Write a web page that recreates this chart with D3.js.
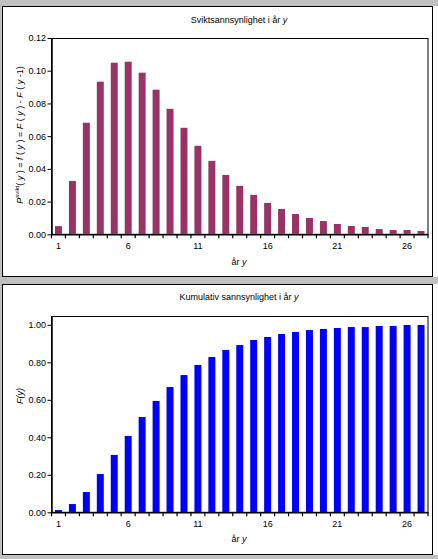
<!DOCTYPE html>
<html><head><meta charset="utf-8">
<script src="https://cdn.jsdelivr.net/npm/d3@7"></script>
<style>body{margin:0;background:#c0c0c0}svg{display:block}text{font-family:"Liberation Sans",Arial,sans-serif;fill:#000}</style>
</head><body>
<script>
const years = d3.range(1, 28);
const fValues = [0.005,0.0326,0.0682,0.0933,0.1049,0.1055,0.0988,0.0884,0.0767,0.0651,0.0541,0.0449,0.0363,0.0296,0.0241,0.0192,0.0155,0.0124,0.0100,0.0081,0.0063,0.0051,0.0045,0.0032,0.0026,0.0026,0.0020];
const FValues = [0.012,0.044,0.108,0.204,0.306,0.407,0.508,0.594,0.668,0.732,0.786,0.828,0.866,0.892,0.919,0.935,0.951,0.962,0.972,0.978,0.983,0.988,0.988,0.994,0.994,0.999,0.999];
const xTickLabels = [1,6,11,16,21,26];
const fTicks = [0,0.02,0.04,0.06,0.08,0.10,0.12];
const FTicks = [0,0.2,0.4,0.6,0.8,1.0];

const W = 438, H = 559;
const svg = d3.select("body").append("svg").attr("width", W).attr("height", H);
svg.append("rect").attr("width", W).attr("height", H).attr("fill", "#c0c0c0");

function panel(o) {
  const g = svg.append("g");
  g.append("rect").attr("x", 433).attr("y", o.py0).attr("width", 5).attr("height", o.py1 - o.py0).attr("fill", "#fff");
  g.append("rect").attr("x", 2.5).attr("y", o.py0 + 0.5).attr("width", 430).attr("height", o.py1 - o.py0 - 1)
    .attr("fill", "#fff").attr("stroke", "#000").attr("stroke-width", 1);
  const x = d3.scaleBand().domain(years).range([51.5, 428]).paddingInner(0.5).paddingOuter(0.25);
  const y = d3.scaleLinear().domain(o.domain).range([o.bottom, o.top]);
  g.append("rect").attr("x", 51.5).attr("y", o.top + 0.5).attr("width", 428 - 51.5).attr("height", o.bottom - o.top - 0.5)
    .attr("fill", "none").attr("stroke", "#000");
  g.selectAll(".bar").data(o.values).enter().append("rect")
    .attr("x", (d, i) => x(years[i])).attr("width", x.bandwidth())
    .attr("y", d => y(d)).attr("height", d => o.bottom - y(d)).attr("fill", o.color);
  const ya = g.append("g").attr("transform", "translate(51.5,0)")
    .call(d3.axisLeft(y).tickValues(o.yticks).tickSize(4).tickSizeOuter(0).tickFormat(d3.format(".2f")));
  ya.select(".domain").attr("stroke", "#000").attr("stroke-width", 1.5);
  ya.selectAll("text").attr("font-size", 9).attr("x", -5.5);
  const xa = g.append("g").attr("transform", `translate(0,${o.bottom})`)
    .call(d3.axisBottom(x).tickValues(xTickLabels).tickSize(0).tickPadding(8));
  xa.select(".domain").attr("stroke", "#000").attr("stroke-width", 1.5);
  xa.selectAll("text").attr("font-size", 9);
  const step = x.step();
  g.selectAll(".xt").data(d3.range(0, 28)).enter().append("line")
    .attr("x1", i => 51.5 + i * step).attr("x2", i => 51.5 + i * step)
    .attr("y1", o.bottom).attr("y2", o.bottom + 4).attr("stroke", "#000").attr("stroke-width", 1.2);
  const t = g.append("text").attr("x", 239).attr("y", o.titleY).attr("text-anchor", "middle").attr("font-size", 9);
  t.append("tspan").text(o.title + " ");
  t.append("tspan").attr("font-style", "italic").text("y");
  const xl = g.append("text").attr("x", 239).attr("y", o.xlabelY).attr("text-anchor", "middle").attr("font-size", 9);
  xl.append("tspan").text("år ");
  xl.append("tspan").attr("font-style", "italic").text("y");
  const yl = g.append("text").attr("transform", `translate(23,${o.ylabelY}) rotate(-90)`).attr("text-anchor", "middle").attr("font-size", 9);
  o.ylabel(yl);
}

panel({
  py0: 6, py1: 277, top: 38, bottom: 234.3, domain: [0, 0.12], values: fValues, color: "#993366",
  yticks: fTicks, title: "Sviktsannsynlighet i år", titleY: 23, xlabelY: 265, ylabelY: 135,
  ylabel: t => {
    const parts = [["P", 1], ["svikt", 2], ["( ", 0], ["y", 1], [" ) = ", 0], ["f", 1], [" ( ", 0], ["y", 1], [" ) = ", 0],
      ["F", 1], [" ( ", 0], ["y", 1], [" ) - ", 0], ["F", 1], [" ( ", 0], ["y", 1], [" -1)", 0]];
    parts.forEach(([s, k], i) => {
      const sp = t.append("tspan").text(s).attr("xml:space", "preserve");
      if (k === 1) sp.attr("font-style", "italic");
      if (k === 2) sp.attr("font-size", 6).attr("dy", -4);
      if (i === 2) sp.attr("dy", 4);
    });
    t.attr("style", "white-space:pre");
  }
});

panel({
  py0: 284, py1: 555, top: 316, bottom: 512.3, domain: [0, 1.047], values: FValues, color: "#0000ff",
  yticks: FTicks, title: "Kumulativ sannsynlighet i år", titleY: 300, xlabelY: 542, ylabelY: 396,
  ylabel: t => {
    t.append("tspan").attr("font-style", "italic").text("F(y)");
  }
});
</script>
</body></html>
